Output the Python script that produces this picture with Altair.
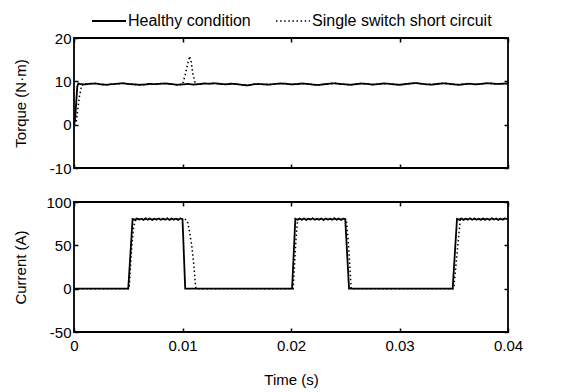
import altair as alt
import pandas as pd

FONT = "Liberation Sans"
SERIES = ["Healthy condition", "Single switch short circuit"]

# ---------------- Torque (N·m) ----------------
torque_grid_t = [round(0.0005 * i, 4) for i in range(1, 81)]  # 0.0005 .. 0.04
torque_healthy_v = [
    9.4, 9.3, 9.45, 9.5, 9.3, 9.2, 9.35, 9.45, 9.55, 9.4,
    9.3, 9.2, 9.25, 9.4, 9.35, 9.45, 9.5, 9.35, 9.2, 9.3,
    9.4, 9.25, 9.35, 9.5, 9.45, 9.55, 9.4, 9.3, 9.45, 9.35,
    9.2, 9.05, 9.3, 9.4, 9.3, 9.25, 9.4, 9.5, 9.45, 9.3,
    9.35, 9.5, 9.4, 9.25, 9.15, 9.3, 9.45, 9.55, 9.4, 9.3,
    9.2, 9.35, 9.5, 9.4, 9.25, 9.35, 9.5, 9.45, 9.3, 9.2,
    9.35, 9.5, 9.6, 9.45, 9.3, 9.25, 9.4, 9.55, 9.45, 9.3,
    9.2, 9.35, 9.45, 9.3, 9.4, 9.55, 9.5, 9.4, 9.45, 9.5,
]
torque_healthy_start_t = [0.0, 0.0001, 0.0002, 0.0003, 0.0004]
torque_healthy_start_v = [0.0, 1.0, 5.0, 8.8, 9.5]

torque_fault_start_t = [0.0, 0.0002, 0.0003, 0.0005, 0.0007]
torque_fault_start_v = [0.0, 0.5, 2.5, 6.5, 9.1]
torque_fault_peak_t = [0.0100, 0.01025, 0.0105, 0.01065, 0.0108, 0.01095, 0.0112]
torque_fault_peak_v = [9.3, 11.5, 14.2, 15.8, 14.5, 11.8, 9.3]

# ---------------- Current (A) ----------------
ripple_1_t0, ripple_2_t0, ripple_3_t0 = 0.0054, 0.0204, 0.0353
ripple_1 = [80.4, 79.4, 81.0, 79.7, 80.8, 79.3, 81.1, 79.6, 80.9, 79.4, 80.7, 79.8,
            81.0, 79.5, 80.8, 79.6, 81.1, 79.4, 80.9, 79.7, 80.8, 79.5, 81.0, 80.3]
ripple_2 = [80.6, 79.5, 80.9, 79.6, 81.0, 79.4, 80.8, 79.7, 81.1, 79.5, 80.7, 79.6,
            80.9, 79.3, 81.0, 79.7, 80.8, 79.5, 81.1, 79.6, 80.9, 79.4, 80.8, 80.2]
ripple_3 = [80.5, 79.6, 81.0, 79.4, 80.8, 79.7, 81.1, 79.5, 80.9, 79.6, 80.7, 79.4,
            81.0, 79.6, 80.8, 79.5, 81.1, 79.7, 80.9, 79.4, 80.8, 79.6, 81.0, 80.5]

cur_healthy_edges = {
    "pre1": ([0.0, 0.0050], [0.0, 0.0]),
    "post1": ([0.01025, 0.0201], [0.0, 0.0]),
    "post2": ([0.02535, 0.0349], [0.0, 0.0]),
    "end": ([0.04], [80.5]),
}
cur_fault_edges = {
    "pre1": ([0.0, 0.00508, 0.0053, 0.0055, 0.0057], [0.0, 0.0, 45.0, 72.0, 79.5]),
    "post1": ([0.0102, 0.01045, 0.0106, 0.01085, 0.01105, 0.0112, 0.01125, 0.0202, 0.02045, 0.0206],
              [80.6, 78.0, 69.0, 50.0, 27.0, 3.0, 0.0, 0.0, 55.0, 78.5]),
    "post2": ([0.0251, 0.0253, 0.02555, 0.0350, 0.03545, 0.0356],
              [80.2, 50.0, 0.0, 0.0, 60.0, 79.0]),
    "end": ([0.04], [80.5]),
}


def ripple_pts(t0, vals):
    return [(round(t0 + 0.0002 * i, 5), v) for i, v in enumerate(vals)]


def df_from(pts, name):
    pts = sorted(pts)
    return pd.DataFrame({"t": [p[0] for p in pts], "v": [p[1] for p in pts], "series": name})


# torque frames
th = list(zip(torque_healthy_start_t, torque_healthy_start_v)) + list(zip(torque_grid_t, torque_healthy_v))
tf = list(zip(torque_fault_start_t, torque_fault_start_v)) + list(zip(torque_fault_peak_t, torque_fault_peak_v))
tf += [(t, v) for t, v in zip(torque_grid_t, torque_healthy_v)
       if t >= 0.0008 and not (0.0099 < t < 0.0113)]
torque_h_df = df_from(th, SERIES[0])
torque_f_df = df_from(tf, SERIES[1])

# current frames
ch = []
for k in ["pre1", "post1", "post2", "end"]:
    ch += list(zip(*cur_healthy_edges[k]))
ch += ripple_pts(ripple_1_t0, ripple_1) + ripple_pts(ripple_2_t0, ripple_2) + ripple_pts(ripple_3_t0, ripple_3)
cf = []
for k in ["pre1", "post1", "post2", "end"]:
    cf += list(zip(*cur_fault_edges[k]))
cf += [p for p in ripple_pts(ripple_1_t0, ripple_1) if p[0] >= 0.0058]
cf += [p for p in ripple_pts(ripple_2_t0, ripple_2) if p[0] >= 0.0208]
cf += [p for p in ripple_pts(ripple_3_t0, ripple_3) if p[0] >= 0.0358]
cur_h_df = df_from(ch, SERIES[0])
cur_f_df = df_from(cf, SERIES[1])

x_ticks = [0, 0.01, 0.02, 0.03, 0.04]
W, H = 434, 130
HYPHEN = "replace(datum.label, '\u2212', '-')"


def hidden_axis(vals, orient):
    return alt.Axis(values=vals, orient=orient, offset=-4, tickSize=4, domain=False, grid=False,
                    labels=False, title=None, minExtent=0, maxExtent=0)


def panel(h_df, f_df, ydomain, yticks, ytitle, show_x, show_legend):
    xs = alt.Scale(domain=[0, 0.04], nice=False, zero=False)
    ys = alt.Scale(domain=ydomain, nice=False, zero=False)
    if show_x:
        xaxis = alt.Axis(values=x_ticks, format=".2~f", orient="bottom", offset=-4, tickSize=4,
                         domain=False, grid=False, labelPadding=6, labelFlush=False,
                         labelOverlap=False, title="Time (s)", titlePadding=19)
    else:
        xaxis = hidden_axis(x_ticks, "bottom")
    yaxis = alt.Axis(values=yticks, orient="left", offset=-4, tickSize=4, domain=False,
                     grid=False, labelPadding=3, labelOverlap=False, labelExpr=HYPHEN,
                     title=ytitle, titlePadding=10, minExtent=40, maxExtent=40)
    if show_legend:
        leg = alt.Legend(title=None)
    else:
        leg = None
    dash = alt.StrokeDash("series:N", scale=alt.Scale(domain=SERIES, range=[[1, 0], [1.5, 2.6]]), legend=leg)
    sw = alt.StrokeWidth("series:N", scale=alt.Scale(domain=SERIES, range=[1.8, 1.5]), legend=leg)

    def lines(df):
        return alt.Chart(df).mark_line(color="black", strokeCap="butt").encode(
            x=alt.X("t:Q", scale=xs, axis=xaxis),
            y=alt.Y("v:Q", scale=ys, axis=yaxis),
            strokeDash=dash,
            strokeWidth=sw,
        )

    data_layer = alt.layer(lines(f_df), lines(h_df))
    ticks_layer = alt.Chart(h_df).mark_line(strokeOpacity=0).encode(
        x=alt.X("t:Q", scale=xs, axis=hidden_axis(x_ticks, "top")),
        y=alt.Y("v:Q", scale=ys, axis=hidden_axis(yticks, "right")),
    )
    return alt.layer(data_layer, ticks_layer).resolve_scale(x="independent", y="independent").properties(
        width=W, height=H)


top = panel(torque_h_df, torque_f_df, [-10, 20], [-10, 0, 10, 20], "Torque (N·m)", False, True)
bottom = panel(cur_h_df, cur_f_df, [-50, 100], [-50, 0, 50, 100], "Current (A)", True, False)

chart = alt.vconcat(top, bottom, spacing=17).properties(
    padding={"left": 4, "top": 4, "right": 5, "bottom": 0}
).configure_view(
    stroke="black", strokeWidth=1.8
).configure_axis(
    labelFont=FONT, labelFontSize=15, labelColor="black",
    titleFont=FONT, titleFontSize=15, titleFontWeight="normal", titleColor="black",
    tickColor="black", tickWidth=1.5,
).configure_legend(
    orient="none", legendX=24, legendY=-26, direction="horizontal",
    symbolType="M-1.875,0H2.375", symbolSize=256, symbolStrokeColor="black",
    symbolFillColor="transparent",
    labelFont=FONT, labelFontSize=16, labelColor="black", labelOffset=12, labelLimit=400,
    columnPadding=22, padding=0,
)

chart.save("out.html", embed_options={"renderer": "svg", "actions": False})
